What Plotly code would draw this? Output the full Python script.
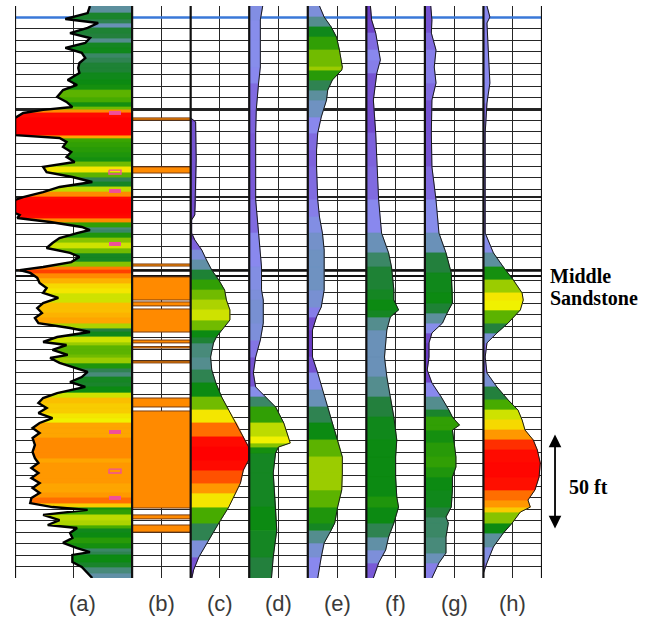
import plotly.graph_objects as go
from plotly.colors import sample_colorscale

# ---------------- data (depth in ft below top of section, values normalised to track width) -------------
a_depth = [0, 3.7, 6.8, 8.9, 11.5, 14.2, 16.8, 19.4, 22.0, 24.6,
           27.3, 29.9, 32.5, 35.1, 38.8, 41.4, 44.1, 47.7, 50.3, 53.0,
           54.5, 56.1, 58.7, 67.7, 69.2, 71.3, 73.9, 76.6, 79.2, 81.8,
           84.4, 87.1, 89.7, 92.3, 94.9, 97.6, 100.2, 101.7, 108.6, 109.6,
           111.2, 113.3, 115.9, 117.5, 119.1, 121.7, 124.3, 126.9, 129.5, 131.6,
           134.3, 136.9, 138.5, 140.0, 142.6, 145.3, 147.9, 150.5, 153.1, 155.8,
           158.4, 161.0, 163.6, 166.3, 168.9, 171.0, 173.6, 176.2, 177.8, 180.4,
           183.0, 184.6, 187.2, 189.9, 191.9, 194.6, 197.2, 199.8, 203.0, 205.6,
           208.2, 210.8, 213.5, 216.1, 218.7, 221.3, 223.9, 226.6, 230.2, 233.9,
           237.1, 239.7, 242.3, 244.9, 247.6, 250.2, 252.8, 255.4, 258.0, 260.7,
           262.8, 264.3, 266.9, 269.6, 272.2, 273.8, 276.4, 279.0, 281.6, 284.3,
           286.4, 287.9, 291.6, 294.2, 297.4, 300]
a_value = [0.36, 0.38, 0.57, 0.29, 0.38, 0.53, 0.36, 0.40, 0.57, 0.43,
           0.40, 0.45, 0.46, 0.45, 0.55, 0.47, 0.59, 0.64, 0.56, 0.51,
           0.76, 0.93, 1.0, 1.0, 0.62, 0.56, 0.59, 0.52, 0.56, 0.49,
           0.76, 0.73, 0.51, 0.34, 0.62, 0.76, 0.93, 1.0, 1.0, 0.96,
           0.98, 0.70, 0.43, 0.36, 0.47, 0.62, 0.68, 0.73, 0.53, 0.45,
           0.52, 0.76, 0.96, 0.87, 0.81, 0.79, 0.73, 0.76, 0.63, 0.76,
           0.81, 0.77, 0.83, 0.80, 0.53, 0.36, 0.64, 0.76, 0.56, 0.68,
           0.55, 0.70, 0.62, 0.47, 0.38, 0.43, 0.53, 0.40, 0.64, 0.76,
           0.80, 0.73, 0.80, 0.68, 0.79, 0.85, 0.79, 0.85, 0.83, 0.85,
           0.83, 0.80, 0.86, 0.80, 0.86, 0.79, 0.85, 0.79, 0.86, 0.87,
           0.68, 0.38, 0.76, 0.62, 0.72, 0.47, 0.53, 0.51, 0.59, 0.47,
           0.36, 0.51, 0.51, 0.43, 0.38, 0.34]

# track (b): sand flag intervals (top, bottom)
b_top = [58.7, 84.4, 135.3, 142.1, 155.2, 158.9, 175.2, 178.6, 186.2, 205.6, 212.4, 266.9, 272.2]
b_bottom = [59.8, 87.6, 136.4, 154.2, 157.3, 171.0, 176.7, 179.4, 187.2, 210.3, 263.3, 269.0, 275.9]

c_depth = [58.7, 60.8, 80.8, 101.7, 109.6, 112.2, 119.1, 122.7, 128.0, 133.2,
           138.5, 143.7, 149.0, 154.2, 159.4, 164.7, 169.9, 173.6, 176.7, 184.1,
           190.9, 197.7, 205.1, 211.9, 218.7, 226.0, 231.3, 238.1, 243.4, 250.2,
           255.4, 262.8, 271.2, 280.1, 289.0, 295.8, 300]
c_value = [0.0, 0.085, 0.094, 0.085, 0.07, 0.017, 0.017, 0.07, 0.19, 0.27,
           0.36, 0.48, 0.58, 0.61, 0.67, 0.67, 0.53, 0.44, 0.39, 0.34,
           0.36, 0.43, 0.53, 0.65, 0.78, 0.90, 0.99, 0.99, 0.90, 0.85,
           0.77, 0.65, 0.48, 0.31, 0.14, 0.05, 0.02]

d_depth = [0, 7.3, 17.8, 32.0, 40.4, 54.5, 66.6, 84.4, 101.7, 119.1,
           136.9, 148.9, 154.2, 166.3, 175.2, 184.1, 192.5, 199.8, 205.1, 210.3,
           218.7, 226.0, 229.2, 231.3, 234.4, 244.9, 262.8, 274.9, 289.0, 300]
d_value = [0.23, 0.19, 0.19, 0.19, 0.16, 0.12, 0.11, 0.11, 0.11, 0.16,
           0.21, 0.21, 0.24, 0.24, 0.19, 0.11, 0.07, 0.11, 0.28, 0.45,
           0.59, 0.67, 0.70, 0.50, 0.45, 0.41, 0.45, 0.47, 0.41, 0.38]

e_depth = [0, 5.8, 11.0, 16.3, 23.1, 32.0, 33.6, 38.8, 44.1, 49.3,
           58.2, 66.6, 75.5, 84.4, 101.7, 110.7, 119.1, 128.0, 136.9, 148.9,
           157.9, 163.1, 169.9, 184.1, 192.5, 201.4, 210.3, 218.7, 227.6, 236.5,
           244.9, 253.8, 262.8, 271.2, 274.9, 281.6, 289.0, 300]
e_value = [0.20, 0.28, 0.40, 0.49, 0.54, 0.59, 0.58, 0.42, 0.34, 0.32,
           0.23, 0.17, 0.15, 0.15, 0.17, 0.20, 0.25, 0.28, 0.28, 0.28,
           0.23, 0.15, 0.08, 0.08, 0.17, 0.25, 0.34, 0.42, 0.51, 0.59,
           0.59, 0.58, 0.51, 0.46, 0.40, 0.28, 0.23, 0.17]

f_depth = [0, 7.3, 14.2, 23.1, 28.3, 35.1, 49.3, 66.6, 84.4, 101.7,
           119.1, 129.5, 136.9, 148.9, 154.2, 159.4, 163.1, 169.9, 184.1, 194.6,
           205.1, 215.6, 227.6, 236.5, 247.0, 257.5, 262.8, 271.2, 278.5, 285.3,
           292.1, 300]
f_value = [0.07, 0.09, 0.16, 0.21, 0.24, 0.18, 0.12, 0.16, 0.18, 0.21,
           0.26, 0.38, 0.43, 0.47, 0.47, 0.55, 0.41, 0.35, 0.31, 0.35,
           0.41, 0.47, 0.52, 0.50, 0.50, 0.52, 0.55, 0.47, 0.38, 0.33,
           0.21, 0.12]

g_depth = [0, 7.3, 14.2, 23.1, 32.0, 40.4, 49.3, 66.6, 84.4, 101.7,
           119.1, 129.5, 140.0, 150.5, 155.8, 161.0, 166.3, 171.5, 176.7, 184.1,
           190.9, 197.7, 205.1, 211.9, 215.6, 219.8, 222.4, 229.2, 236.5, 241.8,
           247.0, 253.8, 262.8, 268.0, 271.2, 278.5, 286.9, 292.1, 300]
g_value = [0.10, 0.12, 0.11, 0.19, 0.16, 0.19, 0.12, 0.11, 0.12, 0.19,
           0.24, 0.36, 0.45, 0.47, 0.47, 0.38, 0.30, 0.12, 0.07, 0.07,
           0.04, 0.12, 0.28, 0.41, 0.47, 0.59, 0.47, 0.50, 0.53, 0.53,
           0.47, 0.47, 0.45, 0.36, 0.40, 0.36, 0.36, 0.24, 0.12]

h_depth = [0, 5.8, 8.9, 23.1, 40.4, 50.9, 66.6, 119.1, 129.5, 136.9,
           143.7, 150.5, 154.2, 159.4, 166.3, 171.5, 176.7, 184.1, 192.5, 199.8,
           206.6, 211.9, 217.1, 222.4, 227.6, 232.9, 239.7, 247.0, 253.8, 259.1,
           262.8, 265.4, 271.2, 276.4, 283.7, 292.1, 297.4, 300]
h_value = [0.06, 0.11, 0.06, 0.08, 0.11, 0.06, 0.03, 0.03, 0.17, 0.34,
           0.51, 0.66, 0.68, 0.63, 0.42, 0.23, 0.06, 0.03, 0.06, 0.23,
           0.42, 0.59, 0.66, 0.71, 0.85, 0.92, 0.97, 0.95, 0.88, 0.76,
           0.80, 0.63, 0.49, 0.34, 0.17, 0.06, 0.0, 0.0]

# pink sample markers in track (a)
core_filled = [56.1, 97.0, 124.8, 223.4, 258.0]
core_open = [87.1, 243.9]

track_labels = ["(a)", "(b)", "(c)", "(d)", "(e)", "(f)", "(g)", "(h)"]

top_marker = 6.0                      # blue line
marker_depths = [54.5, 100.2]         # heavy lines
middle_sandstone = [138.8, 141.6]     # double line
arrow_top = 224.0
arrow_len = 50.0

# ---------------- styling -------------
SCALE = [
    [0.00, "#6a3cc4"], [0.08, "#7d62dc"], [0.15, "#8a8cf0"], [0.24, "#6e92c0"],
    [0.31, "#5a8f98"], [0.38, "#23803e"], [0.46, "#0c8a12"], [0.55, "#40a800"],
    [0.62, "#9ccc00"], [0.70, "#f2f200"], [0.80, "#ffa000"], [0.88, "#ff5a00"],
    [0.95, "#ff1000"], [1.00, "#ff0000"],
]
NB = 64

# track geometry: (depth, value, left edge, from_right, lo, hi)
tracks = [
    (a_depth, a_value, 0.0, True, 0.10, 1.0),
    (c_depth, c_value, 3.0, False, 0.05, 0.98),
    (d_depth, d_value, 4.0, False, 0.05, 0.95),
    (e_depth, e_value, 5.0, False, 0.085, 0.90),
    (f_depth, f_value, 6.0, False, 0.106, 0.97),
    (g_depth, g_value, 7.0, False, 0.07, 0.95),
    (h_depth, h_value, 8.0, False, -0.06, 0.97),
]

fig = go.Figure()

bins = {}
curves = []
for depth, val, left, from_right, lo, hi in tracks:
    if from_right:
        xs = [2.0 - 2.0 * v for v in val]
    else:
        xs = [left + v for v in val]
    curves.append((xs, depth, from_right))
    for i in range(len(depth) - 1):
        tm = ((val[i] + val[i + 1]) / 2 - lo) / (hi - lo)
        tm = min(max(tm, 0.0), 1.0)
        k = int(round(tm * (NB - 1)))
        d0, d1 = depth[i], depth[i + 1]
        if from_right:
            px = [xs[i], 2.0, 2.0, xs[i + 1], xs[i]]
        else:
            px = [left, xs[i], xs[i + 1], left, left]
        py = [d0, d0, d1, d1, d0]
        bx, by = bins.setdefault(k, ([], []))
        bx.extend(px + [None])
        by.extend(py + [None])

for k in sorted(bins):
    col = sample_colorscale(SCALE, [k / (NB - 1)])[0]
    bx, by = bins[k]
    fig.add_trace(go.Scatter(x=bx, y=by, mode="lines", fill="toself", fillcolor=col,
                             line=dict(color=col, width=0.8), hoverinfo="skip", showlegend=False))

for xs, depth, from_right in curves:
    fig.add_trace(go.Scatter(x=xs, y=depth, mode="lines",
                             line=dict(color="#000000" if from_right else "#1a1a1a",
                                       width=2.4 if from_right else 1.0),
                             hoverinfo="skip", showlegend=False))

# track (b) blocks
fig.add_trace(go.Bar(orientation="h",
                     y=[(t + b) / 2 for t, b in zip(b_top, b_bottom)],
                     x=[1.0] * len(b_top), base=[2.0] * len(b_top),
                     width=[b - t for t, b in zip(b_top, b_bottom)],
                     marker=dict(color="#ff8a00", line=dict(color="#7a3e12", width=1)),
                     hoverinfo="skip", showlegend=False))

# pink core markers
px0, px1 = 1.605, 1.81
fx, fy = [], []
for d in core_filled:
    fx += [px0, px1, None]
    fy += [d, d, None]
fig.add_trace(go.Scatter(x=fx, y=fy, mode="lines", line=dict(color="#f0509a", width=4),
                         hoverinfo="skip", showlegend=False))
ox, oy = [], []
for d in core_open:
    ox += [px0, px1, px1, px0, px0, None]
    oy += [d - 1.0, d - 1.0, d + 1.0, d + 1.0, d - 1.0, None]
fig.add_trace(go.Scatter(x=ox, y=oy, mode="lines", line=dict(color="#f0509a", width=1.4),
                         hoverinfo="skip", showlegend=False))

# ---------------- lines -------------
shapes = []
shapes.append(dict(type="line", xref="x", yref="y", x0=0, x1=9, y0=top_marker, y1=top_marker,
                   line=dict(color="#3a78d8", width=2.5), layer="between"))
for d in marker_depths:
    shapes.append(dict(type="line", xref="x", yref="y", x0=0, x1=9, y0=d, y1=d,
                       line=dict(color="#222222", width=2), layer="between"))
for d in middle_sandstone:
    shapes.append(dict(type="line", xref="x", yref="y", x0=0, x1=9, y0=d, y1=d,
                       line=dict(color="#111111", width=2), layer="between"))
for u in [0, 2, 3, 4, 5, 6, 7, 8, 9]:
    shapes.append(dict(type="line", xref="x", yref="paper", x0=u, x1=u, y0=0, y1=1,
                       line=dict(color="#111111", width=2.2), layer="above"))

grid_depths = list(range(6, 301, 6))
thin_vertical = [1, 2.5, 3.5, 4.5, 5.5, 6.5, 7.5, 8.5]
label_pos = [1.15, 2.5, 3.5, 4.5, 5.5, 6.5, 7.5, 8.5]

annotations = []
for lab, u in zip(track_labels, label_pos):
    annotations.append(dict(x=u, y=0, xref="x", yref="paper", text=lab, showarrow=False,
                            yanchor="middle", yshift=-25,
                            font=dict(family="Liberation Sans, Arial", size=22, color="#3a3a3a")))
serif = dict(family="Liberation Serif, Times New Roman", size=20, color="#000000")
annotations.append(dict(x=1.0114, xref="paper", y=middle_sandstone[1], yref="y",
                        text="<b>Middle</b>", showarrow=False, xanchor="left", yanchor="middle",
                        font=serif))
annotations.append(dict(x=1.0114, xref="paper", y=middle_sandstone[1], yref="y",
                        text="<b>Sandstone</b>", showarrow=False, xanchor="left", yanchor="middle",
                        yshift=-22, font=serif))
annotations.append(dict(x=1.0247, xref="paper", y=arrow_top + arrow_len, yref="y",
                        ax=0, axref="pixel", ay=arrow_top, ayref="y", text="",
                        showarrow=True, arrowside="end+start", arrowhead=2, arrowsize=1.4,
                        arrowwidth=1.8, arrowcolor="#000000", standoff=0, startstandoff=0))
annotations.append(dict(x=1.0474, xref="paper", y=arrow_top + arrow_len / 2, yref="y",
                        text="<b>50 ft</b>", showarrow=False, xanchor="left", yanchor="middle",
                        yshift=-6, font=serif))

fig.update_layout(
    width=655, height=618,
    margin=dict(l=15, r=113, t=6, b=40),
    paper_bgcolor="white", plot_bgcolor="white",
    barmode="overlay",
    shapes=shapes, annotations=annotations,
    showlegend=False,
    xaxis=dict(range=[0, 9], tickmode="array", tickvals=thin_vertical, showticklabels=False,
               ticks="", showgrid=True, gridcolor="#262626", gridwidth=1.2, zeroline=False,
               showline=False, fixedrange=True),
    yaxis=dict(range=[300, 0], tickmode="array", tickvals=grid_depths, showticklabels=False,
               ticks="", showgrid=True, gridcolor="#262626", gridwidth=1.2, zeroline=False,
               showline=False, fixedrange=True),
)

fig.write_html("out.html")
